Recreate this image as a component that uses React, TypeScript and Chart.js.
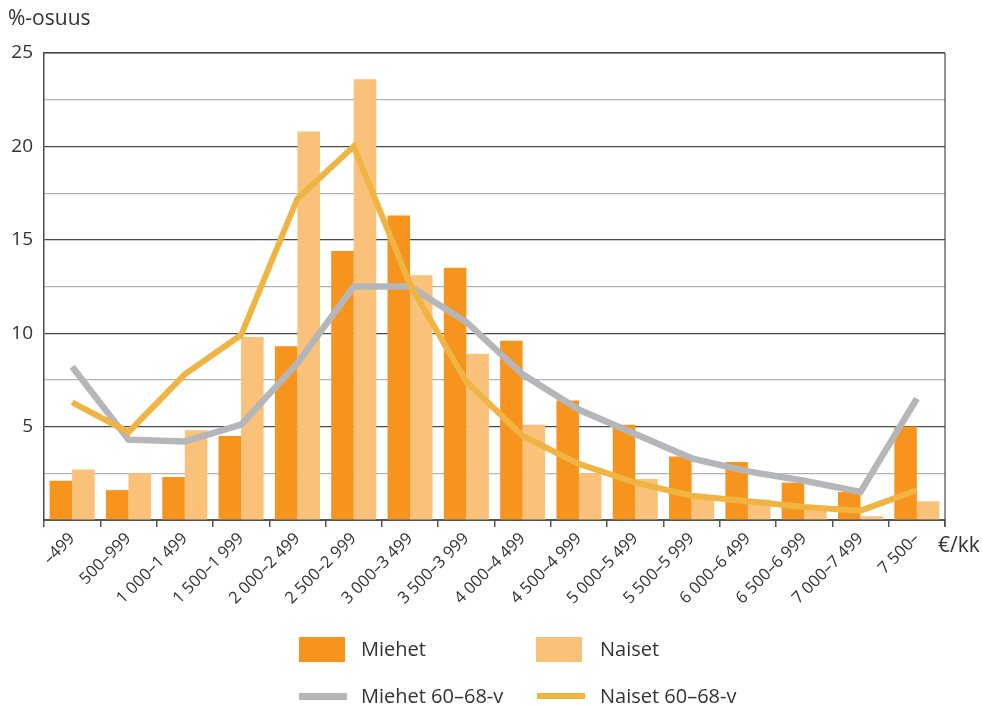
import React, { useEffect, useRef } from "react";
import { Chart, registerables } from "chart.js";

Chart.register(...registerables);

const categories = [
  "–499",
  "500–999",
  "1\u00a0000–1\u00a0499",
  "1\u00a0500–1\u00a0999",
  "2\u00a0000–2\u00a0499",
  "2\u00a0500–2\u00a0999",
  "3\u00a0000–3\u00a0499",
  "3\u00a0500–3\u00a0999",
  "4\u00a0000–4\u00a0499",
  "4\u00a0500–4\u00a0999",
  "5\u00a0000–5\u00a0499",
  "5\u00a0500–5\u00a0999",
  "6\u00a0000–6\u00a0499",
  "6\u00a0500–6\u00a0999",
  "7\u00a0000–7\u00a0499",
  "7\u00a0500–",
];

const miehet = [2.1, 1.6, 2.3, 4.5, 9.3, 14.4, 16.3, 13.5, 9.6, 6.4, 5.1, 3.4, 3.1, 2.0, 1.5, 5.0];
const naiset = [2.7, 2.5, 4.8, 9.8, 20.8, 23.6, 13.1, 8.9, 5.1, 2.5, 2.2, 1.3, 1.1, 0.6, 0.2, 1.0];
const miehet6068 = [8.2, 4.3, 4.2, 5.1, 8.4, 12.5, 12.5, 10.6, 7.8, 5.9, 4.6, 3.3, 2.6, 2.1, 1.5, 6.5];
const naiset6068 = [6.3, 4.7, 7.8, 9.9, 17.2, 20.0, 12.6, 7.4, 4.5, 3.0, 2.0, 1.3, 1.0, 0.7, 0.5, 1.6];

const yMin = 0;
const yMax = 25;
const yStep = 2.5;
const yLabelStep = 5;

const seriesNames = ["Miehet", "Naiset", "Miehet 60–68-v", "Naiset 60–68-v"];
const yTitle = "%-osuus";
const xUnit = "€/kk";

const COL_M = "#F7941E";
const COL_N = "#F9C17A";
const COL_M6 = "#B5B6B9";
const COL_N6 = "#EFB441";
const TEXT = "#333333";
const FONT = "'Open Sans', 'Noto Sans', sans-serif";

const borderPlugin = {
  id: "frameBorder",
  afterDraw(chart: any) {
    const { ctx, chartArea } = chart;
    ctx.save();
    ctx.strokeStyle = "#4a4a4a";
    ctx.lineWidth = 1.2;
    ctx.beginPath();
    ctx.moveTo(chartArea.left, chartArea.top);
    ctx.lineTo(chartArea.right, chartArea.top);
    ctx.moveTo(chartArea.right, chartArea.top);
    ctx.lineTo(chartArea.right, chartArea.bottom + 7);
    ctx.stroke();
    ctx.restore();
  },
};

export default function App() {
  const canvasRef = useRef<HTMLCanvasElement | null>(null);

  useEffect(() => {
    if (!canvasRef.current) return;
    const chart = new Chart(canvasRef.current, {
      type: "bar",
      data: {
        labels: categories,
        datasets: [
          {
            type: "line",
            label: seriesNames[3],
            data: naiset6068,
            borderColor: COL_N6,
            backgroundColor: COL_N6,
            borderWidth: 6,
            pointRadius: 0,
            tension: 0,
            order: 0,
          } as any,
          {
            type: "line",
            label: seriesNames[2],
            data: miehet6068,
            borderColor: COL_M6,
            backgroundColor: COL_M6,
            borderWidth: 6.5,
            pointRadius: 0,
            tension: 0,
            order: 1,
          } as any,
          {
            type: "bar",
            label: seriesNames[0],
            data: miehet,
            backgroundColor: COL_M,
            borderWidth: 0,
            categoryPercentage: 0.8,
            barPercentage: 1.0,
            order: 2,
          },
          {
            type: "bar",
            label: seriesNames[1],
            data: naiset,
            backgroundColor: COL_N,
            borderWidth: 0,
            categoryPercentage: 0.8,
            barPercentage: 1.0,
            order: 2,
          },
        ],
      },
      options: {
        animation: false,
        responsive: false,
        maintainAspectRatio: false,
        layout: { padding: { top: 53, right: 37, left: 0, bottom: 0 } },
        plugins: {
          legend: { display: false },
          tooltip: { enabled: false },
        },
        scales: {
          x: {
            offset: true,
            grid: {
              display: true,
              drawOnChartArea: false,
              drawTicks: true,
              tickLength: 7,
              color: "#555555",
              lineWidth: 1.5,
              offset: true,
            },
            border: { display: true, color: "#555555", width: 2 },
            ticks: {
              color: TEXT,
              font: { family: FONT, size: 16.5 },
              minRotation: 45,
              maxRotation: 45,
              autoSkip: false,
              padding: 2,
            },
            afterFit(scale: any) {
              scale.height = 187;
            },
          },
          y: {
            min: yMin,
            max: yMax,
            grid: {
              drawTicks: false,
              color: (c: any) => {
                const v = c.tick ? c.tick.value : 0;
                return Math.abs(v % yLabelStep) < 1e-6 ? "#4a4a4a" : "#b3b3b3";
              },
              lineWidth: 1.2,
            },
            border: { display: true, color: "#4a4a4a", width: 1.5 },
            ticks: {
              stepSize: yStep,
              color: TEXT,
              font: { family: FONT, size: 19 },
              padding: 11,
              callback: (v: any) => {
                const n = Number(v);
                if (n === 0) return "";
                return Math.abs(n % yLabelStep) < 1e-6 ? String(n) : "";
              },
            },
            afterFit(scale: any) {
              scale.width = 44;
            },
          },
        },
      },
      plugins: [borderPlugin],
    });
    return () => chart.destroy();
  }, []);

  const textStyle: React.CSSProperties = {
    position: "absolute",
    fontFamily: FONT,
    color: TEXT,
    whiteSpace: "nowrap",
  };

  return (
    <div style={{ position: "fixed", left: 0, top: 0, width: 982, height: 707, background: "#fff" }}>
      <canvas ref={canvasRef} width={982} height={707} style={{ position: "absolute", left: 0, top: 0, width: 982, height: 707 }} />
      <div style={{ ...textStyle, left: 8, top: 2, fontSize: 21, lineHeight: "30px" }}>{yTitle}</div>
      <div style={{ ...textStyle, left: 938, top: 529, fontSize: 21, lineHeight: "30px" }}>{xUnit}</div>

      <div style={{ position: "absolute", left: 299, top: 637, width: 46, height: 25, background: COL_M }} />
      <div style={{ ...textStyle, left: 361, top: 634, fontSize: 20, lineHeight: "30px" }}>{seriesNames[0]}</div>
      <div style={{ position: "absolute", left: 536, top: 637, width: 46, height: 25, background: COL_N }} />
      <div style={{ ...textStyle, left: 600, top: 634, fontSize: 20, lineHeight: "30px" }}>{seriesNames[1]}</div>

      <div style={{ position: "absolute", left: 299, top: 693, width: 48, height: 7, background: COL_M6 }} />
      <div style={{ ...textStyle, left: 361, top: 681, fontSize: 20, lineHeight: "30px" }}>{seriesNames[2]}</div>
      <div style={{ position: "absolute", left: 537, top: 693, width: 48, height: 6, background: COL_N6 }} />
      <div style={{ ...textStyle, left: 600, top: 681, fontSize: 20, lineHeight: "30px" }}>{seriesNames[3]}</div>
    </div>
  );
}
